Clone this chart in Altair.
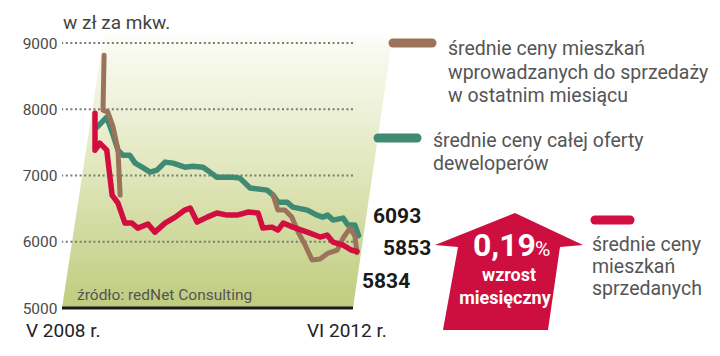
import altair as alt
import pandas as pd

# ---------------- data (month index 0 = V 2008, 49 = VI 2012; values in zł per m²)
red_month = [0, 0, 0.9, 2.2, 3.2, 4.3, 5.6, 6.9, 8.0, 9.9, 11.2, 13.1, 15.0, 16.8, 17.8, 19.1,
             21.0, 22.8, 24.7, 26.6, 28.6, 30.5, 31.4, 33.1, 34.2, 35.2, 37.0, 39.7, 42.1, 43.4,
             44.5, 46.4, 47.9, 49.0]
red_value = [7941, 7383, 7488, 7383, 6704, 6583, 6282, 6282, 6206, 6267, 6146, 6282, 6372, 6478,
             6508, 6297, 6372, 6433, 6402, 6402, 6448, 6433, 6206, 6221, 6176, 6282, 6221, 6146,
             6071, 6101, 5995, 5950, 5875, 5853]

green_month = [0.4, 2.2, 3.4, 4.3, 5.2, 6.5, 7.5, 8.8, 10.3, 11.6, 13.1, 14.6, 16.8, 18.3, 20.2,
               21.5, 22.8, 25.8, 27.1, 29.0, 32.2, 33.3, 34.2, 35.9, 37.0, 39.7, 41.5, 42.6, 43.5,
               44.5, 46.4, 47.3, 48.6, 49.3]
green_value = [7729, 7880, 7609, 7383, 7307, 7307, 7187, 7126, 7051, 7081, 7202, 7187, 7126, 7141,
               7126, 7051, 6975, 6975, 6960, 6810, 6779, 6704, 6598, 6598, 6523, 6478, 6402, 6372,
               6402, 6327, 6357, 6252, 6252, 6093]

brown1_month = [1.7, 1.5, 2.4, 3.4, 4.3, 4.7]
brown1_value = [8815, 7986, 7956, 7729, 7383, 6704]
brown2_month = [33.3, 34.2, 35.5, 36.8, 38.0, 39.3, 40.6, 42.1, 43.6, 45.3, 46.4, 47.7, 48.6, 49.0]
brown2_value = [6704, 6478, 6478, 6372, 6146, 5950, 5724, 5739, 5829, 5875, 6056, 6206, 6086, 5834]

y_ticks = [5000, 6000, 7000, 8000, 9000]
grid_values = [6000, 7000, 8000, 9000]
x_labels = ["V 2008 r.", "VI 2012 r."]
unit_label = "w zł za mkw."
source_label = "źródło: redNet Consulting"
end_labels = ["6093", "5853", "5834"]
legend_brown = ["średnie ceny mieszkań", "wprowadzanych do sprzedaży", "w ostatnim miesiącu"]
legend_green = ["średnie ceny całej oferty", "deweloperów"]
legend_red = ["średnie ceny", "mieszkań", "sprzedanych"]
arrow_texts = ["0,19", "%", "wzrost", "miesięczny"]

# background band (slanted panel) in data units
band_value = [5000, 9190]
band_left = [-6.17, 1.74]
band_right = [48.25, 55.8]

# ---------------- style
W, H = 291, 265
X_DOMAIN = [-6.17, 48.25]
FONT = "Roboto"
BROWN, GREEN, RED = "#9b735a", "#3f8a72", "#d20d3f"

xs = alt.Scale(domain=X_DOMAIN, nice=False, zero=False)
ys = alt.Scale(domain=[5000, 9000], nice=False, zero=False)
Y_AX = alt.Axis(values=y_ticks, format="d", grid=False, domain=False, ticks=False, title=None,
                labelFont=FONT, labelFontSize=15.5, labelColor="#4a4a4a", labelPadding=5)


def Y(field="v"):
    return alt.Y(f"{field}:Q", scale=ys, axis=Y_AX)


def series(months, values, seg=0):
    return pd.DataFrame({"m": months, "v": values, "i": list(range(len(months))), "seg": seg})


def line_layer(df, color, width=5.5):
    return alt.Chart(df).mark_line(
        color=color, strokeWidth=width, strokeCap="round", strokeJoin="round"
    ).encode(
        x=alt.X("m:Q", scale=xs, axis=None),
        y=Y(),
        order=alt.Order("i:Q"),
        detail="seg:N",
    )


blank = alt.Data(values=[{}])


def text(t, x, y, size, color="#444", weight="normal", align="left", baseline="alphabetic"):
    return alt.Chart(blank).mark_text(
        text=t, font=FONT, fontSize=size, color=color, fontWeight=weight,
        align=align, baseline=baseline,
    ).encode(x=alt.value(x), y=alt.value(y))


def bar(x1, x2, y, color):
    return alt.Chart(blank).mark_rule(
        color=color, strokeWidth=9, strokeCap="round"
    ).encode(x=alt.value(x1), x2=alt.value(x2), y=alt.value(y))


gradient = alt.Gradient(
    gradient="linear",
    stops=[
        alt.GradientStop(color="#ffffff", offset=0),
        alt.GradientStop(color="#f8f9ee", offset=0.08),
        alt.GradientStop(color="#eef1d9", offset=0.28),
        alt.GradientStop(color="#e0e6ba", offset=0.52),
        alt.GradientStop(color="#cfd89c", offset=0.76),
        alt.GradientStop(color="#c0cc7e", offset=1),
    ],
    x1=0, x2=0, y1=0, y2=1,
)

band = alt.Chart(pd.DataFrame({"v": band_value, "xl": band_left, "xr": band_right})).mark_area(
    orient="horizontal", color=gradient
).encode(
    y=Y(),
    x=alt.X("xl:Q", scale=xs, axis=None),
    x2="xr:Q",
)

grid = alt.Chart(pd.DataFrame({"v": grid_values})).mark_rule(
    color="#7a7a70", strokeWidth=1.8, strokeDash=[2, 2.6]
).encode(y=Y())

base = alt.Chart(pd.DataFrame({"v": [5000]})).mark_rule(
    color="#1a1a1a", strokeWidth=3
).encode(y=Y())

green_l = line_layer(series(green_month, green_value), GREEN)
brown_l = line_layer(pd.concat([series(brown1_month, brown1_value, 0),
                                series(brown2_month, brown2_value, 1)]), BROWN, 5)
red_l = line_layer(series(red_month, red_value), RED)

arrow_path = ("M0.081,-0.791L1,-0.358L0.689,-0.331L0.527,0.791L-0.892,0.791"
              "L-0.689,-0.331L-1,-0.358Z")
arrow = alt.Chart(blank).mark_point(
    shape=arrow_path, filled=True, color="#cc0f3e", opacity=1, size=148 * 148, strokeWidth=0
).encode(x=alt.value(447), y=alt.value(228.5))

texts = [
    text(unit_label, 1, -14, 19, "#444"),
    text(x_labels[0], -36, 294, 19, "#222"),
    text(x_labels[1], 245, 294, 19, "#222"),
    text(source_label, 15, 257, 15.5, "#555"),
    text(end_labels[0], 311, 180, 21, "#1a1a1a", "bold"),
    text(end_labels[1], 321, 212, 21, "#1a1a1a", "bold"),
    text(end_labels[2], 300, 245, 21, "#1a1a1a", "bold"),
    text(legend_brown[0], 386, 12, 19.5, "#555"),
    text(legend_brown[1], 386, 36, 19.5, "#555"),
    text(legend_brown[2], 386, 59, 19.5, "#555"),
    text(legend_green[0], 371, 104, 19.5, "#555"),
    text(legend_green[1], 371, 127, 19.5, "#555"),
    text(legend_red[0], 530, 208, 19.5, "#555"),
    text(legend_red[1], 530, 230, 19.5, "#555"),
    text(legend_red[2], 530, 252, 19.5, "#555"),
    text(arrow_texts[0], 411, 213, 32, "#ffffff", "bold"),
    text(arrow_texts[1], 473, 213, 21, "#ffffff"),
    text(arrow_texts[2], 447, 238, 18, "#ffffff", "bold", "center"),
    text(arrow_texts[3], 443, 261, 18, "#ffffff", "bold", "center"),
]

legend_bars = [
    bar(331, 370, 0, BROWN),
    bar(316, 355, 95, GREEN),
    bar(533, 568, 177, RED),
]

chart = alt.layer(
    band, grid, base, green_l, brown_l, red_l, arrow, *legend_bars, *texts
).properties(
    width=W, height=H,
    autosize=alt.AutoSizeParams(type="none"),
    padding={"left": 54, "top": 35, "right": 359, "bottom": 40},
    background="#ffffff",
).configure_view(stroke=None)

chart.save("out.html", embed_options={"renderer": "svg", "actions": False})
